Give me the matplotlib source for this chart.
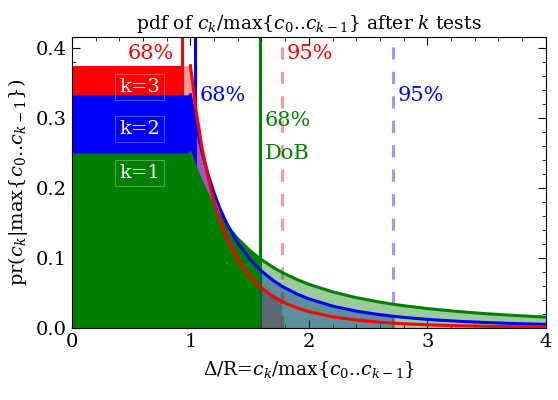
import numpy as np
import matplotlib
matplotlib.use("Agg")
import matplotlib.pyplot as plt
from matplotlib.ticker import MultipleLocator

plt.rcParams["font.family"] = ["DejaVu Serif"]
plt.rcParams["mathtext.fontset"] = "dejavuserif"

# values: flat part up to 1, then the tail
x_vals = [0.0, 0.93, 1.0, 1.04, 1.05, 1.1, 1.15, 1.2, 1.25, 1.3, 1.4, 1.5, 1.59, 1.6,
          1.7, 1.77, 1.8, 1.9, 2.0, 2.2, 2.4, 2.6, 2.71, 2.8, 3.0, 3.25, 3.5, 3.75, 4.0]
pdf_k1 = [0.25, 0.25, 0.25, 0.2311, 0.2268, 0.2066, 0.1890, 0.1736, 0.1600, 0.1479, 0.1276,
          0.1111, 0.0989, 0.0977, 0.0865, 0.0798, 0.0772, 0.0693, 0.0625, 0.0517, 0.0434,
          0.0370, 0.0340, 0.0319, 0.0278, 0.0237, 0.0204, 0.0178, 0.0156]
pdf_k2 = [0.3333, 0.3333, 0.3333, 0.2963, 0.2879, 0.2504, 0.2192, 0.1929, 0.1707, 0.1517,
          0.1215, 0.0988, 0.0829, 0.0814, 0.0678, 0.0601, 0.0572, 0.0486, 0.0417, 0.0313,
          0.0241, 0.0190, 0.0168, 0.0152, 0.0123, 0.0097, 0.0078, 0.0063, 0.0052]
pdf_k3 = [0.375, 0.375, 0.375, 0.3205, 0.3085, 0.2561, 0.2144, 0.1808, 0.1536, 0.1313,
          0.0976, 0.0741, 0.0587, 0.0572, 0.0449, 0.0382, 0.0357, 0.0288, 0.0234, 0.0160,
          0.0113, 0.0082, 0.0070, 0.0061, 0.0046, 0.0033, 0.0024, 0.0018, 0.0015]

# 68% and 95% limits for each k (k=1 95% is off the chart)
lim68 = {1: 1.59, 2: 1.04, 3: 0.93}
lim95 = {1: 4.0, 2: 2.71, 3: 1.77}
colors = {1: "green", 2: "blue", 3: "red"}

x = np.array(x_vals)
curves = {1: np.array(pdf_k1), 2: np.array(pdf_k2), 3: np.array(pdf_k3)}

fig = plt.figure(figsize=(5.58, 4.0), dpi=100)
ax = fig.add_axes([0.129, 0.18, 0.849, 0.7275])

ytop = 0.416

# vertical limit lines, behind the fills
ax.vlines(lim68[3], 0, ytop, color="red", lw=2.2, zorder=1)
ax.vlines(lim68[2], 0, ytop, color="blue", lw=2.2, zorder=1)
ax.vlines(lim68[1], 0, ytop, color="green", lw=2.2, zorder=1)
ax.vlines(lim95[3], 0, ytop, color="red", alpha=0.4, lw=2.2, ls=(0, (4, 4)), zorder=1)
ax.vlines(lim95[2], 0, ytop, color="blue", alpha=0.4, lw=2.2, ls=(0, (4, 4)), zorder=1)

# fills: red first, then blue, green on top
for k in [3, 2, 1]:
    y = curves[k]
    c = colors[k]
    ax.fill_between(x, 0, y, where=(x <= lim68[k]), color=c, lw=0, zorder=2)
    ax.fill_between(x, 0, y, where=(x >= lim68[k]) & (x <= lim95[k]), color=c,
                    alpha=0.4, lw=0, zorder=2)

# curve lines for the tail
tail = x >= 1.0
for k in [1, 2, 3]:
    ax.plot(x[tail], curves[k][tail], color=colors[k], lw=2.2, zorder=3)

box = dict(boxstyle="square,pad=0.2", fc="none", ec=(1, 1, 1, 0.3), lw=0.8)
ax.text(0.57, 0.344, "k=3", color="white", fontsize=14, ha="center", va="center", bbox=box, zorder=4)
ax.text(0.57, 0.285, "k=2", color="white", fontsize=14, ha="center", va="center", bbox=box, zorder=4)
ax.text(0.57, 0.222, "k=1", color="white", fontsize=14, ha="center", va="center", bbox=box, zorder=4)

fs = 15
ax.text(0.86, 0.393, "68%", color="red", fontsize=fs, ha="right", va="center", zorder=4)
ax.text(1.08, 0.333, "68%", color="blue", fontsize=fs, ha="left", va="center", zorder=4)
ax.text(1.63, 0.296, "68%", color="green", fontsize=fs, ha="left", va="center", zorder=4)
ax.text(1.63, 0.249, "DoB", color="green", fontsize=fs, ha="left", va="center", zorder=4)
ax.text(1.81, 0.393, "95%", color="red", fontsize=fs, ha="left", va="center", zorder=4)
ax.text(2.75, 0.333, "95%", color="blue", fontsize=fs, ha="left", va="center", zorder=4)

ax.set_xlim(0, 4)
ax.set_ylim(0, ytop)
ax.xaxis.set_major_locator(MultipleLocator(1))
ax.xaxis.set_minor_locator(MultipleLocator(0.2))
ax.yaxis.set_major_locator(MultipleLocator(0.1))
ax.yaxis.set_minor_locator(MultipleLocator(0.02))
ax.tick_params(which="both", direction="in", top=True, right=True, labelsize=14)
ax.tick_params(which="major", length=6)
ax.tick_params(which="minor", length=3)

ax.set_title(r"pdf of $c_k$/max{$c_0$..$c_{k-1}$} after $k$ tests", fontsize=13.5)
ax.set_xlabel(r"$\Delta$/R=$c_k$/max{$c_0$..$c_{k-1}$}", fontsize=13.5, labelpad=6)
ax.set_ylabel(r"pr($c_k$|max{$c_0$..$c_{k-1}$})", fontsize=14)

fig.savefig("out.png", dpi=100)
